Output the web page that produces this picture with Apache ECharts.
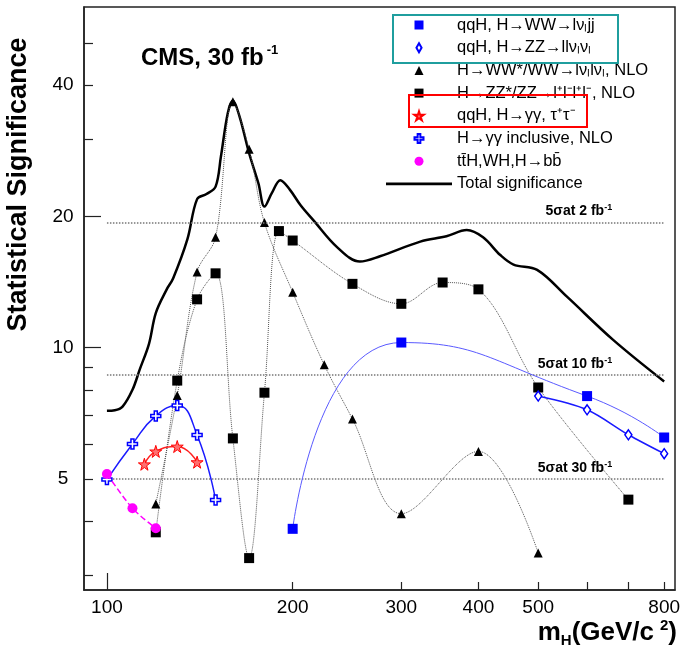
<!DOCTYPE html>
<html><head><meta charset="utf-8">
<script src="https://cdn.jsdelivr.net/npm/echarts@6/dist/echarts.min.js"></script>
<style>html,body{margin:0;padding:0;background:#fff}#c{width:683px;height:658px}</style>
</head><body><div id="c"></div>
<script>
// ---- data ----
const qqWWMass = [200, 300, 600, 800];
const qqWWSig  = [3.84, 10.27, 7.74, 6.22];
const qqZZMass = [500, 600, 700, 800];
const qqZZSig  = [7.74, 7.2, 6.31, 5.71];
const wwMass = [120, 130, 140, 150, 160, 170, 180, 200, 225, 250, 300, 400, 500];
const wwSig  = [4.38, 7.76, 14.9, 17.9, 36.6, 28.5, 19.35, 13.4, 9.13, 6.86, 4.16, 5.78, 3.38];
const zzMass = [120, 130, 140, 150, 160, 170, 180, 190, 200, 250, 300, 350, 400, 500, 700];
const zzSig  = [3.77, 8.4, 12.9, 14.8, 6.19, 3.29, 7.88, 18.5, 17.6, 14.0, 12.6, 14.1, 13.6, 8.1, 4.48];
const qqGGMass = [115, 120, 130, 140];
const qqGGSig  = [5.4, 5.78, 5.93, 5.46];
const ggIncMass = [100, 110, 120, 130, 140, 150];
const ggIncSig  = [4.98, 6.01, 6.97, 7.36, 6.3, 4.47];
const bbMass = [100, 110, 120];
const bbSig  = [5.13, 4.28, 3.85];
const totalMass = [100, 103, 106, 110, 113, 117, 120, 125, 128, 135, 140, 145, 150, 153, 157, 160, 164, 170, 176, 180, 185, 191, 198, 206, 216, 236, 257, 277, 322, 355, 383, 407, 434, 456, 498, 556, 662, 800];
const totalSig  = [7.16, 7.18, 7.32, 8.0, 8.9, 10.2, 12.0, 13.6, 14.4, 17.7, 21.9, 22.5, 23.4, 27.4, 34.5, 36.8, 33.9, 27.9, 23.8, 21.05, 22.6, 24.2, 23.0, 21.2, 19.6, 17.0, 15.75, 16.2, 17.5, 18.0, 18.6, 17.9, 16.3, 15.5, 15.07, 13.1, 10.4, 8.36];
const sigmaLevels = [19.36, 8.66, 5.0];
const sigmaLumi = ['2', '10', '30'];
const sigmaRange = [100, 800];
const seriesNames = ['qqH, H\u2192WW\u2192l\u03bd\u2097jj', 'qqH, H\u2192ZZ\u2192ll\u03bd\u2097\u03bd\u2097', 'H\u2192WW*/WW\u2192l\u03bd\u2097l\u03bd\u2097, NLO', 'H\u2192ZZ*/ZZ\u2192l\u207al\u207bl\u207al\u207b, NLO', 'qqH, H\u2192\u03b3\u03b3, \u03c4\u207a\u03c4\u207b', 'H\u2192\u03b3\u03b3 inclusive, NLO', 't\u0074\u0304H,WH,H\u2192b\u0062\u0304', 'Total significance'];
const xLabelValues = [100, 200, 300, 400, 500, 800];
const xTickValues = [200, 300, 400, 500, 600, 700, 800];
const xMajorTicks = [100];
const yLabelValues = [5, 10, 20, 40];
const yTickValues = [3, 4, 5, 6, 7, 8, 9, 30, 40, 50];
const yMajorTicks = [10, 20];

const FONT = 'Liberation Sans, Arial, Helvetica, sans-serif';
const STAR = 'path://M50,0 L61,35 L98,35 L68,57 L79,91 L50,70 L21,91 L32,57 L2,35 L39,35 Z';
const CROSS = 'path://M35,0H65V35H100V65H65V100H35V65H0V35H35Z';
const ICON_RECT = 'path://M0,0H10V10H0Z';
const ICON_TRI = 'path://M5,0L10,10H0Z';
const ICON_DIAMOND = 'path://M5,0L9,7L5,14L1,7Z';
const ICON_CIRCLE = 'path://M5,0A5,5,0,1,1,5,10A5,5,0,1,1,5,0Z';
const ICON_LINE = 'path://M0,0H60V2.5H0Z';
const pairs = (xs, ys) => xs.map((x, i) => [x, ys[i]]);

const chart = echarts.init(document.getElementById('c'), null, {renderer: 'canvas'});

const xBase = {
  type: 'log', logBase: 10, min: 91.8, max: 833, gridIndex: 0, position: 'bottom',
  splitLine: {show: false}, minorTick: {show: false}
};
const yBase = {
  type: 'log', logBase: 10, min: 2.78, max: 60.4, gridIndex: 0, position: 'left',
  splitLine: {show: false}, minorTick: {show: false}
};

const option = {
  animation: false,
  backgroundColor: '#fff',
  textStyle: {fontFamily: FONT},
  grid: {left: 84, right: 8, top: 7, bottom: 68, show: true, borderColor: '#222', borderWidth: 1.5, containLabel: false, outerBoundsMode: 'none'},
  title: {
    text: '{a|CMS, 30 fb}{s|-1}', left: 136, top: 39,
    textStyle: {rich: {
      a: {fontSize: 24, fontWeight: 'bold', color: '#000', fontFamily: FONT, lineHeight: 29},
      s: {fontSize: 13, fontWeight: 'bold', color: '#000', fontFamily: FONT, verticalAlign: 'top', lineHeight: 13, padding: [0, 0, 0, 3]}
    }}
  },
  xAxis: [
    Object.assign({}, xBase, {
      axisLine: {show: true, lineStyle: {color: '#222', width: 1.5}},
      axisTick: {show: true, inside: true, length: 8, customValues: xTickValues, lineStyle: {color: '#222', width: 1.2}},
      axisLabel: {show: true, customValues: xLabelValues, fontSize: 19, color: '#000', margin: 8, fontFamily: FONT},
      name: '{m|m}{sub|H}{m|(GeV/c}{sup|2}{m|)}', nameLocation: 'end', nameGap: 2,
      nameTextStyle: {align: 'right', verticalAlign: 'top', padding: [28, 0, 0, 0], rich: {
        m: {fontSize: 26, fontWeight: 'bold', color: '#000', fontFamily: FONT, lineHeight: 30},
        sub: {fontSize: 15, fontWeight: 'bold', color: '#000', fontFamily: FONT, verticalAlign: 'bottom', lineHeight: 15},
        sup: {fontSize: 15, fontWeight: 'bold', color: '#000', fontFamily: FONT, verticalAlign: 'top', lineHeight: 15, padding: [0, 0, 0, 6]}
      }}
    }),
    Object.assign({}, xBase, {
      axisLine: {show: false},
      axisTick: {show: true, inside: true, length: 17, customValues: xMajorTicks, lineStyle: {color: '#222', width: 1.2}},
      axisLabel: {show: false}
    })
  ],
  yAxis: [
    Object.assign({}, yBase, {
      axisLine: {show: true, lineStyle: {color: '#222', width: 1.5}},
      axisTick: {show: true, inside: true, length: 9, customValues: yTickValues, lineStyle: {color: '#222', width: 1.2}},
      axisLabel: {show: true, customValues: yLabelValues, fontSize: 19, color: '#000', margin: 21, align: 'center', fontFamily: FONT},
      name: 'Statistical Significance', nameLocation: 'middle', nameGap: 52, nameRotate: 90,
      nameTextStyle: {fontSize: 27, fontWeight: 'bold', color: '#000', fontFamily: FONT, padding: [0, 0, 0, 228]}
    }),
    Object.assign({}, yBase, {
      axisLine: {show: false},
      axisTick: {show: true, inside: true, length: 17, customValues: yMajorTicks, lineStyle: {color: '#222', width: 1.2}},
      axisLabel: {show: false}
    })
  ],
  legend: {
    orient: 'vertical', left: 386, top: 16, padding: 0, itemWidth: 66, itemHeight: 9, itemGap: 4.7,
    selectedMode: false, symbolKeepAspect: true,
    textStyle: {fontSize: 16.5, color: '#000', fontFamily: FONT, lineHeight: 18},
    data: [
      {name: seriesNames[0], icon: ICON_RECT},
      {name: seriesNames[1], icon: ICON_DIAMOND},
      {name: seriesNames[2], icon: ICON_TRI},
      {name: seriesNames[3], icon: ICON_RECT},
      {name: seriesNames[4], icon: STAR},
      {name: seriesNames[5], icon: CROSS},
      {name: seriesNames[6], icon: ICON_CIRCLE},
      {name: seriesNames[7], icon: ICON_LINE}
    ]
  },
  graphic: [
    {type: 'rect', shape: {x: 393, y: 15, width: 225, height: 48}, style: {fill: 'none', stroke: '#1f9e9e', lineWidth: 2}, z: 100},
    {type: 'rect', shape: {x: 409, y: 95, width: 178, height: 32}, style: {fill: 'none', stroke: '#ff0000', lineWidth: 2}, z: 100}
  ],
  series: [
    {
      name: '5sigma', type: 'line', data: [], silent: true, z: 1,
      markLine: {
        silent: true, symbol: 'none', animation: false,
        lineStyle: {color: '#777', width: 1.5, type: 'dotted'},
        label: {
          show: true, position: 'insideEndTop', distance: [52, 3],
          formatter: p => '{a|5\u03c3at ' + sigmaLumi[p.dataIndex] + ' fb}{s|-1}',
          rich: {
            a: {fontSize: 14, fontWeight: 'bold', color: '#000', fontFamily: FONT, lineHeight: 16},
            s: {fontSize: 9, fontWeight: 'bold', color: '#000', fontFamily: FONT, verticalAlign: 'top', lineHeight: 9}
          }
        },
        data: sigmaLevels.map(v => [{coord: [sigmaRange[0], v]}, {coord: [sigmaRange[1], v]}])
      }
    },
    {
      name: seriesNames[7], type: 'line', data: pairs(totalMass, totalSig), smooth: 0.35, symbol: 'none', z: 3,
      itemStyle: {color: '#000'}, lineStyle: {color: '#000', width: 2.5}
    },
    {
      name: seriesNames[2], type: 'line', data: pairs(wwMass, wwSig), smooth: 0.35, symbol: 'triangle', symbolSize: 9, z: 4,
      itemStyle: {color: '#000'}, lineStyle: {color: '#555', width: 1, type: 'dotted'}
    },
    {
      name: seriesNames[3], type: 'line', data: pairs(zzMass, zzSig), smooth: 0.35, symbol: 'rect', symbolSize: 10, z: 4,
      itemStyle: {color: '#000'}, lineStyle: {color: '#555', width: 1, type: 'dotted'}
    },
    {
      name: seriesNames[0], type: 'line', data: pairs(qqWWMass, qqWWSig), smooth: 0.55, symbol: 'rect', symbolSize: 10, z: 5,
      itemStyle: {color: '#0000ff'}, lineStyle: {color: '#5a5aff', width: 1}
    },
    {
      name: seriesNames[1], type: 'line', data: pairs(qqZZMass, qqZZSig), smooth: 0.3, symbol: 'diamond', symbolSize: [7, 10], z: 5,
      itemStyle: {color: '#fff', borderColor: '#0000ff', borderWidth: 1.5}, lineStyle: {color: '#1a1aff', width: 1.5}
    },
    {
      name: seriesNames[4], type: 'line', data: pairs(qqGGMass, qqGGSig), smooth: 0.5, symbol: STAR, symbolSize: 12, z: 5,
      itemStyle: {color: '#ff7070', borderColor: '#ff0000', borderWidth: 1}, lineStyle: {color: '#ff2020', width: 1.5}
    },
    {
      name: seriesNames[5], type: 'line', data: pairs(ggIncMass, ggIncSig), smooth: 0.5, symbol: CROSS, symbolSize: 10, z: 5,
      itemStyle: {color: '#fff', borderColor: '#0000ff', borderWidth: 1.5}, lineStyle: {color: '#1a1aff', width: 1.5}
    },
    {
      name: seriesNames[6], type: 'line', data: pairs(bbMass, bbSig), smooth: 0.3, symbol: 'circle', symbolSize: 10, z: 6,
      itemStyle: {color: '#ff00ff'}, lineStyle: {color: '#ff00ff', width: 1.5, type: 'dashed'}
    }
  ]
};
chart.setOption(option);
</script>
</body></html>
